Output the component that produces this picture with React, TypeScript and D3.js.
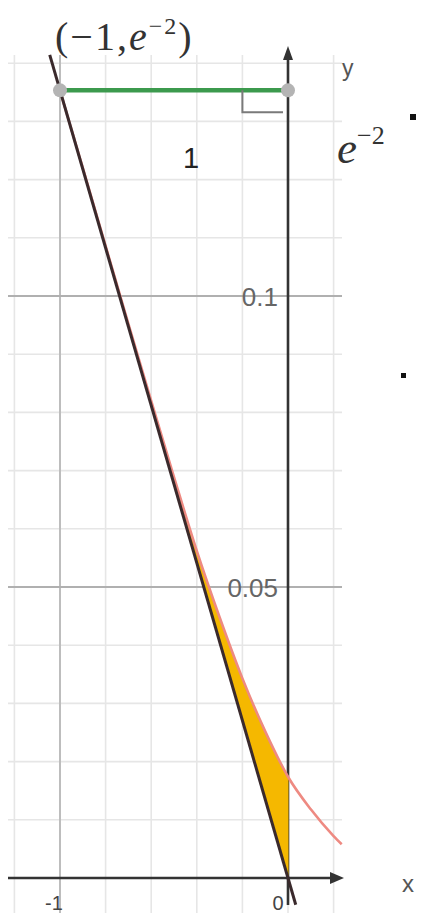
import * as d3 from "d3";

// grid positions (data units)
const gridX = [-1.2, -1, -0.8, -0.6, -0.4, -0.2, 0, 0.2];
const gridY = [0.01, 0.02, 0.03, 0.04, 0.05, 0.06, 0.07, 0.08, 0.09, 0.1, 0.11, 0.12, 0.13, 0.14];
const majorX = [-1];
const majorY = [0.05, 0.1];

// tick labels
const xTicks = [-1, 0];
const xTickLabels = ["-1", "0"];
const yTicks = [0.05, 0.1];
const yTickLabels = ["0.05", "0.1"];

// the point (-1, e^-2) and the foot on the y axis
const E2 = Math.exp(-2);
const pointsX = [-1, 0];
const pointsY = [E2, E2];

// straight line through (-1, e^-2) and (0, 0)
const lineX = [-1, 0];
const lineY = [E2, 0];
const lineExtent = [-1.045, 0.034];

// red curve
const curveX = [-1, -0.9, -0.8, -0.7, -0.6, -0.5, -0.4, -0.3, -0.2, -0.1, 0, 0.1, 0.2, 0.2355];
const curveY = [0.1353, 0.122, 0.1086, 0.0952, 0.082, 0.0689, 0.0562, 0.0448, 0.0343, 0.0252, 0.0174, 0.0118, 0.0072, 0.0058];

// shaded region between the line and the curve
const shadeFrom = -0.5;
const shadeTo = 0;

const W = 423;
const H = 913;

export default function App() {
  const x = d3.scaleLinear().domain([-1, 0]).range([60, 288]);
  const y = d3.scaleLinear().domain([0, 0.1]).range([878, 296]);
  const lineAt = d3.scaleLinear().domain(lineX).range(lineY);

  const curvePts = curveX.map((v, i) => [v, curveY[i]] as [number, number]);
  const curvePath = d3
    .line<[number, number]>()
    .x((d) => x(d[0]))
    .y((d) => y(d[1]))
    .curve(d3.curveMonotoneX)(curvePts);

  const shadePts = curvePts.filter((d) => d[0] >= shadeFrom && d[0] <= shadeTo);
  const shadePath = d3
    .area<[number, number]>()
    .x((d) => x(d[0]))
    .y0((d) => y(lineAt(d[0])))
    .y1((d) => y(d[1]))
    .curve(d3.curveMonotoneX)(shadePts);

  const gx0 = 8;
  const gx1 = 342;
  const gyTop = 55;

  const sans = "Liberation Sans, Arial, sans-serif";
  const serif = "Liberation Serif, Times New Roman, serif";

  return (
    <svg
      width={W}
      height={H}
      style={{ position: "absolute", left: 0, top: 0, background: "#fff" }}
    >
      {/* minor grid */}
      {gridX.map((v) => (
        <line key={"gx" + v} x1={x(v)} x2={x(v)} y1={gyTop} y2={H} stroke="#e6e6e6" strokeWidth={1.6} />
      ))}
      {gridY.map((v) => (
        <line key={"gy" + v} x1={gx0} x2={gx1} y1={y(v)} y2={y(v)} stroke="#e6e6e6" strokeWidth={1.6} />
      ))}
      {/* major grid */}
      {majorX.map((v) => (
        <line key={"mx" + v} x1={x(v)} x2={x(v)} y1={gyTop} y2={H} stroke="#b8b8b8" strokeWidth={1.8} />
      ))}
      {majorY.map((v) => (
        <line key={"my" + v} x1={gx0} x2={gx1} y1={y(v)} y2={y(v)} stroke="#b0b0b0" strokeWidth={1.8} />
      ))}

      {/* axes */}
      <line x1={gx0} x2={338} y1={y(0)} y2={y(0)} stroke="#333" strokeWidth={2.6} />
      <path d={`M${344},${y(0)} L${330},${y(0) - 6} L${330},${y(0) + 6} Z`} fill="#333" />
      <line x1={x(0)} x2={x(0)} y1={56} y2={905} stroke="#333" strokeWidth={2.6} />
      <path d={`M${x(0)},${46} L${x(0) - 5},${60} L${x(0) + 5},${60} Z`} fill="#333" />

      {/* tick labels */}
      {yTicks.map((v, i) => (
        <text key={"yt" + v} x={278} y={y(v) + 10} textAnchor="end" fontFamily={sans} fontSize={26} fill="#666">
          {yTickLabels[i]}
        </text>
      ))}
      {xTicks.map((v, i) => (
        <text
          key={"xt" + v}
          x={i === 0 ? x(v) - 6 : x(v) - 10}
          y={910}
          textAnchor="middle"
          fontFamily={sans}
          fontSize={20}
          fill="#444"
        >
          {xTickLabels[i]}
        </text>
      ))}
      <text x={342} y={76} fontFamily={sans} fontSize={23} fill="#555">y</text>
      <text x={402} y={892} fontFamily={sans} fontSize={24} fill="#555">x</text>

      {/* shaded region */}
      <path d={shadePath ?? ""} fill="#f5b800" stroke="#f5b800" strokeWidth={1} />

      {/* red curve */}
      <path d={curvePath ?? ""} fill="none" stroke="#ee8a82" strokeWidth={2.6} />

      {/* straight line */}
      <line
        x1={x(lineExtent[0])}
        y1={y(lineAt(lineExtent[0]))}
        x2={x(lineExtent[1])}
        y2={y(lineAt(lineExtent[1]))}
        stroke="#3a2a2c"
        strokeWidth={3}
      />

      {/* green segment */}
      <line x1={x(pointsX[0])} x2={x(pointsX[1])} y1={y(pointsY[0])} y2={y(pointsY[1])} stroke="#3c9a4e" strokeWidth={4.5} />
      {/* right angle mark */}
      <path
        d={`M${x(-0.2)},${y(E2)} L${x(-0.2)},${y(E2) + 22} L${x(0) - 5},${y(E2) + 22}`}
        fill="none"
        stroke="#7a7a7a"
        strokeWidth={2}
      />
      {pointsX.map((v, i) => (
        <circle key={"p" + i} cx={x(v)} cy={y(pointsY[i])} r={7} fill="#b4b4b4" />
      ))}

      {/* annotations */}
      <text x={55} y={50} fontFamily={serif} fontSize={40} fill="#333" letterSpacing={2}>
        (−1,
        <tspan fontStyle="italic">e</tspan>
        <tspan fontSize={24} dy={-16}>−2</tspan>
        <tspan dy={16}>)</tspan>
      </text>
      <text x={191} y={168} textAnchor="middle" fontFamily={sans} fontSize={29} fill="#222">1</text>
      <text x={337} y={163} fontFamily={serif} fontStyle="italic" fontSize={45} fill="#333">
        e
        <tspan fontSize={26} dy={-19} fontStyle="normal">−2</tspan>
      </text>
      <rect x={410} y={114} width={6} height={6} fill="#111" />
      <rect x={401} y={373} width={5} height={5} fill="#111" />
    </svg>
  );
}
